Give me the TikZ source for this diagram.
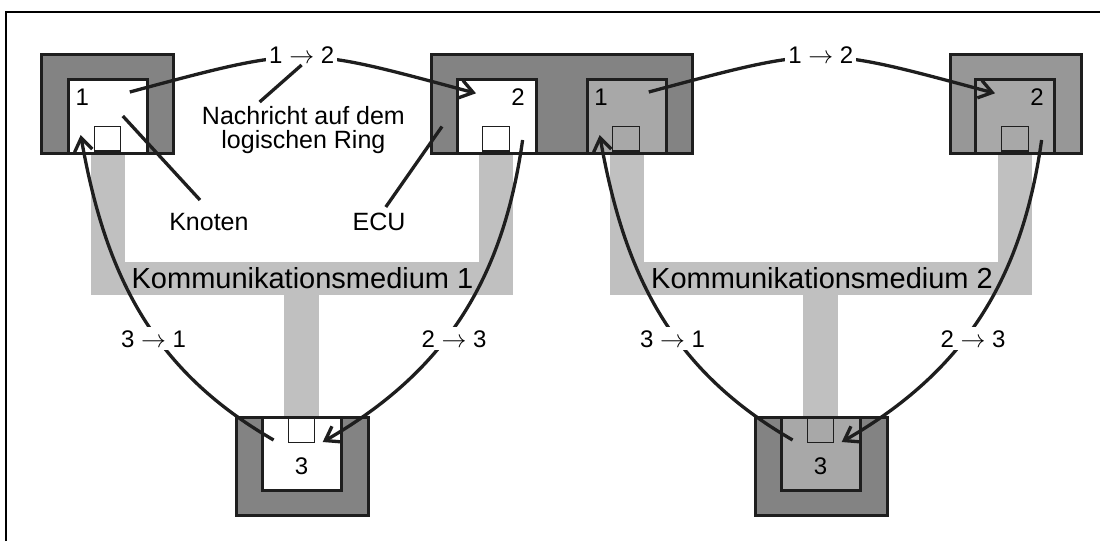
\documentclass[tikz,border=0pt]{standalone}
\usepackage{fontspec}
\setmainfont{Liberation Sans}
\usetikzlibrary{arrows.meta}
\definecolor{ecudark}{HTML}{838383}
\definecolor{ecuright}{HTML}{979797}
\definecolor{nodegray}{HTML}{A8A8A8}
\definecolor{medgray}{HTML}{C0C0C0}
\definecolor{edge}{HTML}{1E1E1E}
\begin{document}
\begin{tikzpicture}[x=1pt,y=1pt,
  ecubox/.style={draw=edge, line width=3.4pt, fill=ecudark, rectangle, inner sep=0pt, anchor=north west},
  knotbox/.style={draw=edge, line width=3.4pt, fill=white, rectangle, inner sep=0pt, anchor=north west, minimum width=79pt, minimum height=74pt},
  portbox/.style={draw=edge, line width=1.4pt, fill=white, rectangle, inner sep=0pt, anchor=north west, minimum width=26.5pt, minimum height=24.3pt},
  num/.style={font=\fontsize{24}{24}\selectfont, anchor=base, inner sep=0pt},
  ringlbl/.style={font=\fontsize{24}{24}\selectfont, anchor=base, fill=white, inner sep=3pt},
  txt/.style={font=\fontsize{25}{25}\selectfont, anchor=base, inner sep=0pt},
  medlbl/.style={font=\fontsize{29}{29}\selectfont, anchor=base, inner sep=0pt},
  ringarc/.style={draw=edge, line width=3.3pt, -{Straight Barb[length=13pt,width=18pt]}},
  pointer/.style={draw=edge, line width=3.3pt}
]
\useasboundingbox (0,0) rectangle (1100,-541);
% frame
\draw[line width=1.5pt] (6,-541) -- (6,-12) -- (1100,-12);

% communication media
\fill[medgray] (90.5,-152) rectangle (124.5,-295);
\fill[medgray] (90.5,-262) rectangle (512.8,-295);
\fill[medgray] (478.8,-152) rectangle (512.8,-295);
\fill[medgray] (284,-295) rectangle (318.5,-416);
\fill[medgray] (609.5,-152) rectangle (643.5,-295);
\fill[medgray] (609.5,-262) rectangle (1031.8,-295);
\fill[medgray] (997.8,-152) rectangle (1031.8,-295);
\fill[medgray] (803,-295) rectangle (837.5,-416);
\node[medlbl] (med1) at (302.5,-288) {Kommunikationsmedium 1};
\node[medlbl] (med2) at (822,-288) {Kommunikationsmedium 2};

% ECUs
\node[ecubox, minimum width=132pt, minimum height=99pt] (ecuA) at (40,-53) {};
\node[ecubox, minimum width=261pt, minimum height=99pt] (ecuB) at (430,-53) {};
\node[ecubox, fill=ecuright, minimum width=131pt, minimum height=99pt] (ecuC) at (949,-53) {};
\node[ecubox, minimum width=132pt, minimum height=98pt] (ecuD) at (235,-416) {};
\node[ecubox, minimum width=132pt, minimum height=98pt] (ecuE) at (754,-416) {};

% nodes (Knoten), medium 1
\node[knotbox] (k1a) at (67,-78) {};
\node[portbox] (p1a) at (93.5,-126) {};
\node[knotbox] (k2a) at (456,-78) {};
\node[portbox] (p2a) at (482,-126) {};
\node[knotbox, minimum height=73pt] (k3a) at (261,-416) {};
\node[portbox] (p3a) at (287.5,-417.7) {};
% nodes, medium 2
\node[knotbox, fill=nodegray] (k1b) at (586,-78) {};
\node[portbox, fill=nodegray] (p1b) at (612,-126) {};
\node[knotbox, fill=nodegray] (k2b) at (974,-78) {};
\node[portbox, fill=nodegray] (p2b) at (1001,-126) {};
\node[knotbox, fill=nodegray, minimum height=73pt] (k3b) at (780,-416) {};
\node[portbox, fill=nodegray] (p3b) at (806.5,-417.7) {};

% node numbers
\node[num] (t1a) at (82.3,-105) {1};
\node[num] (t2a) at (518,-105.5) {2};
\node[num] (t3a) at (301.6,-474) {3};
\node[num] (t1b) at (601,-105) {1};
\node[num] (t2b) at (1037,-105.5) {2};
\node[num] (t3b) at (820.6,-474) {3};

% ring arcs, medium 1
\coordinate (s12a) at (129.8,-92);
\coordinate (e12a) at (476,-93.3);
\coordinate (s23a) at (522.6,-140);
\coordinate (e23a) at (322.7,-442);
\coordinate (s31a) at (273.6,-440);
\coordinate (e31a) at (80.7,-135);
\draw[ringarc] (s12a) to[out=15,in=165,looseness=1.35] (e12a);
\draw[ringarc] (s23a) to[out=-98,in=30] (e23a);
\draw[ringarc] (s31a) to[out=150,in=-80] (e31a);
% ring arcs, medium 2
\coordinate (s12b) at (648.8,-92);
\coordinate (e12b) at (995,-93.3);
\coordinate (s23b) at (1041.6,-140);
\coordinate (e23b) at (841.7,-442);
\coordinate (s31b) at (792.6,-440);
\coordinate (e31b) at (599.7,-135);
\draw[ringarc] (s12b) to[out=15,in=165,looseness=1.35] (e12b);
\draw[ringarc] (s23b) to[out=-98,in=30] (e23b);
\draw[ringarc] (s31b) to[out=150,in=-80] (e31b);

% ring labels
\node[ringlbl] (l12a) at (301.7,-63) {1 $\rightarrow$ 2};
\node[ringlbl] (l23a) at (454,-347) {2 $\rightarrow$ 3};
\node[ringlbl] (l31a) at (153.5,-347) {3 $\rightarrow$ 1};
\node[ringlbl] (l12b) at (820.7,-63) {1 $\rightarrow$ 2};
\node[ringlbl] (l23b) at (973,-347) {2 $\rightarrow$ 3};
\node[ringlbl] (l31b) at (672.5,-347) {3 $\rightarrow$ 1};

% annotations
\node[txt, align=center, anchor=north] (msg) at (303.4,-106) {Nachricht auf dem\\[-1pt]logischen Ring};
\node[txt] (knoten) at (208.9,-230.5) {Knoten};
\node[txt] (ecu) at (379,-230.7) {ECU};
\coordinate (pm1) at (301.6,-65);
\coordinate (pm2) at (259.6,-102);
\coordinate (pk1) at (122.8,-116);
\coordinate (pk2) at (200,-200);
\coordinate (pe1) at (442,-126.5);
\coordinate (pe2) at (385.8,-207);
\draw[pointer] (pm1) -- (pm2);
\draw[pointer] (pk1) -- (pk2);
\draw[pointer] (pe1) -- (pe2);
\end{tikzpicture}
\end{document}
